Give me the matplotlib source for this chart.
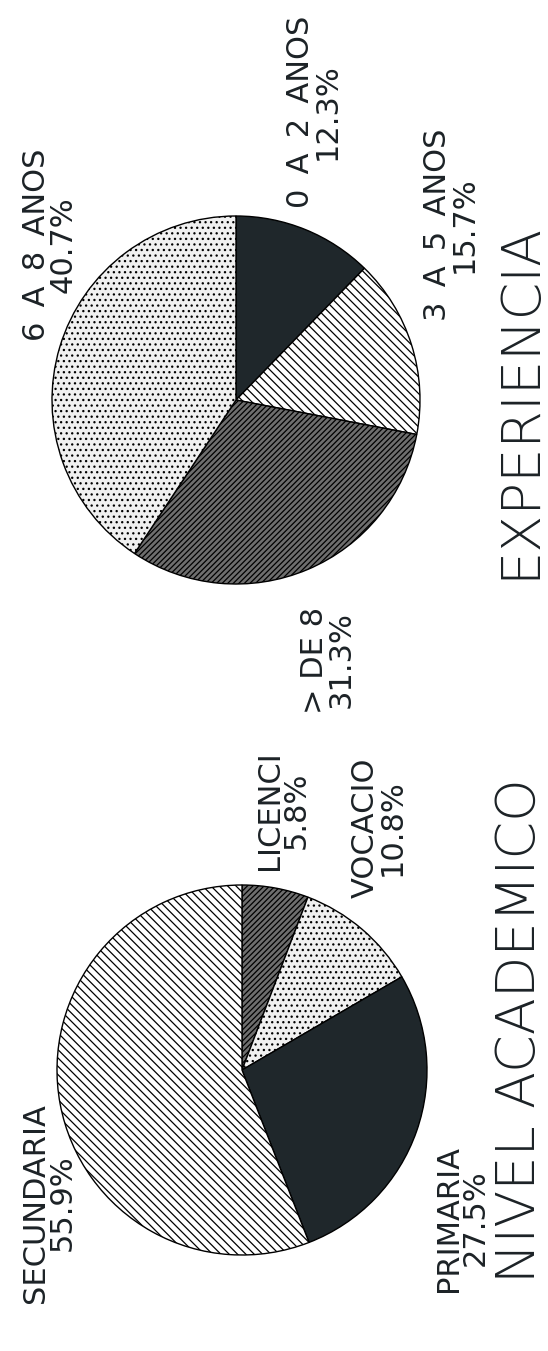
import matplotlib
matplotlib.use("Agg")
import matplotlib.pyplot as plt

W, H = 548, 1351                      # output size in px (dpi 100)

# --- data -------------------------------------------------------------
exp_labels = ["0 A 2 ANOS", "3 A 5 ANOS", "> DE 8", "6 A 8 ANOS"]
exp_values = [12.3, 15.7, 31.3, 40.7]

niv_labels = ["LICENCI", "VOCACIO", "PRIMARIA", "SECUNDARIA"]
niv_values = [5.8, 10.8, 27.5, 55.9]

# --- look --------------------------------------------------------------
ink = "#1c2226"
exp_fill = ["#1f272b", "white", "#6e6e6e", "#f0f0f0"]
exp_hatch = [None, "\\\\\\\\", "//////", "..."]
niv_fill = ["#6e6e6e", "#f0f0f0", "#1f272b", "white"]
niv_hatch = ["//////", "...", None, "\\\\\\\\"]

# label anchors in image px (x from left, y from top)
exp_pos = [(314, 112), (451, 225), (328, 660), (50, 245)]
niv_pos = [(283, 810), (379, 828), (462, 1218), (49, 1203)]

plt.rcParams["hatch.linewidth"] = 0.9
plt.rcParams["hatch.color"] = "black"

fig = plt.figure(figsize=(W / 100, H / 100), dpi=100)
ax = fig.add_axes([0, 0, 1, 1])


def pie(values, fills, hatches, cx, cy, r):
    wedges, _ = ax.pie(values, colors=fills, hatch=hatches, startangle=90,
                       counterclock=False, center=(cx, H - cy), radius=r,
                       wedgeprops=dict(edgecolor="black", linewidth=1.0))
    return wedges


def labels(names, values, pos):
    for name, v, (x, y) in zip(names, values, pos):
        if "ANOS" in name:            # the old plotter spaced these wide
            name = name.replace(" ", "\u2002")
        ax.text(x, H - y, f"{name}\n{v:.1f}%", rotation=90, ha="center",
                va="center", multialignment="center", linespacing=0.9,
                fontsize=22, family="DejaVu Sans", color=ink)


pie(exp_values, exp_fill, exp_hatch, 236, 400, 184)
pie(niv_values, niv_fill, niv_hatch, 242, 1070, 185)
labels(exp_labels, exp_values, exp_pos)
labels(niv_labels, niv_values, niv_pos)

# titles hug the right edge of the page
title_kw = dict(rotation=90, ha="right", fontsize=39, family="DejaVu Sans",
                fontweight=200, color=ink)
ax.text(546, H - 400, "EXPERIENCIA", va="center", **title_kw)
ax.text(546, H - 778, "NIVEL ACADEMICO", va="top", **title_kw)

ax.set_xlim(0, W)
ax.set_ylim(0, H)
ax.set_aspect("equal")
ax.axis("off")
fig.savefig("out.png", dpi=100, facecolor="white")
plt.close(fig)
